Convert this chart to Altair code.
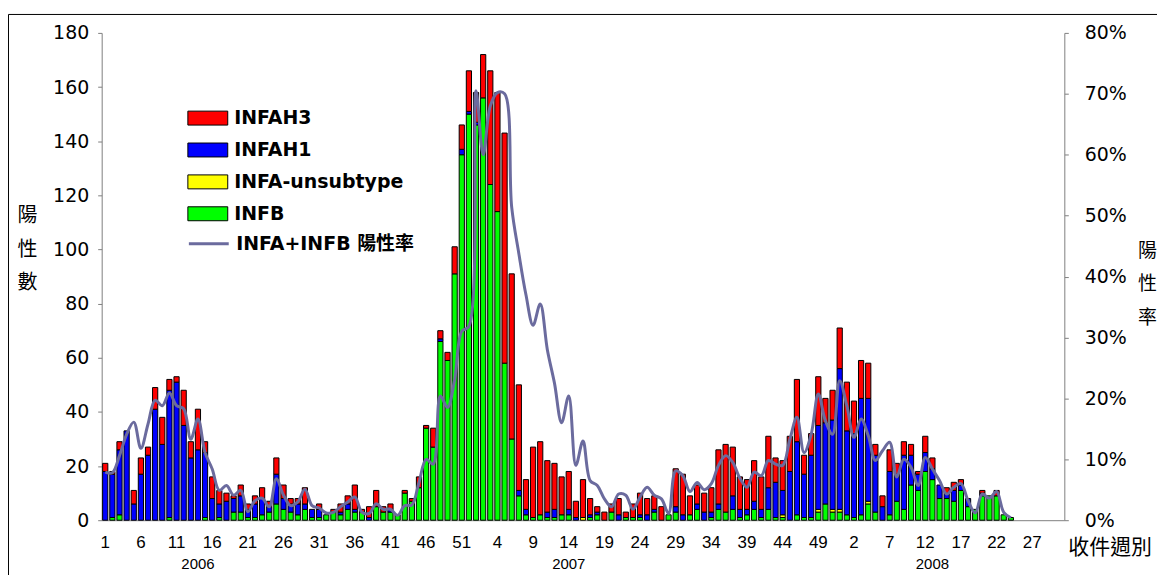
import altair as alt
import pandas as pd

# ---------------- data ----------------
N_WEEKS = 135  # 2006 w1-52, 2007 w1-52, 2008 w1-31
series_names = ["INFAH3", "INFAH1", "INFA-unsubtype", "INFB"]
series_colors = ["#ff0000", "#0000ff", "#ffff00", "#00ff00"]
line_name = "INFA+INFB 陽性率"
line_color = "#6b6b9e"

infb = [0, 1, 2, 0, 0, 0, 0, 0, 0, 1,
        0, 0, 0, 0, 1, 0, 1, 0, 3, 3,
        1, 1, 2, 3, 6, 4, 3, 2, 4, 1,
        1, 2, 3, 2, 4, 3, 3, 0, 5, 3,
        3, 2, 10, 7, 12, 34, 27, 66, 59, 91,
        135, 150, 146, 156, 124, 114, 58, 30, 9, 2,
        1, 2, 1, 1, 2, 2, 0, 0, 1, 2,
        0, 3, 0, 1, 1, 1, 0, 3, 0, 2,
        3, 0, 2, 4, 0, 1, 4, 3, 4, 1,
        2, 4, 1, 4, 1, 1, 0, 2, 1, 1,
        3, 6, 3, 3, 2, 1, 2, 6, 3, 0,
        2, 7, 4, 13, 11, 18, 15, 8, 8, 7,
        11, 5, 4, 9, 9, 9, 2, 1]

unsub = [0] * 128
for _k in (67, 95, 100, 102, 103, 107):
    unsub[_k] = 1

h1 = [18, 16, 24, 33, 6, 17, 24, 41, 28, 47,
      51, 35, 23, 26, 24, 8, 5, 7, 5, 6,
      3, 5, 6, 2, 11, 4, 3, 4, 2, 3,
      3, 0, 0, 1, 2, 1, 0, 1, 0, 0,
      1, 0, 0, 0, 0, 0, 0, 1, 0, 0,
      2, 1, 1, 0, 0, 0, 0, 0, 2, 2,
      0, 0, 2, 3, 0, 2, 1, 0, 1, 1,
      0, 0, 2, 0, 0, 1, 2, 1, 0, 0,
      2, 2, 0, 2, 3, 2, 2, 0, 5, 3,
      2, 3, 3, 8, 13, 9, 18, 27, 16, 23,
      31, 30, 33, 52, 31, 31, 43, 38, 21, 5,
      16, 10, 20, 11, 6, 7, 4, 5, 2, 4,
      2, 3, 0, 1, 0, 0, 0, 0]

h3 = [3, 1, 3, 0, 5, 6, 3, 8, 10, 4,
      2, 13, 6, 15, 4, 8, 5, 3, 1, 4,
      2, 3, 4, 2, 6, 5, 2, 2, 6, 0,
      2, 0, 1, 3, 3, 9, 1, 4, 6, 2,
      2, 0, 1, 1, 4, 1, 7, 3, 3, 10,
      9, 15, 11, 16, 42, 44, 85, 61, 39, 11,
      26, 27, 19, 17, 14, 14, 6, 14, 6, 2,
      3, 3, 6, 2, 5, 8, 6, 5, 5, 0,
      14, 15, 7, 7, 7, 9, 20, 25, 18, 12,
      11, 15, 12, 19, 9, 11, 13, 23, 7, 8,
      18, 9, 11, 15, 18, 12, 14, 13, 4, 4,
      8, 4, 5, 4, 1, 6, 4, 0, 2, 3,
      2, 0, 0, 1, 0, 2, 0, 0]

rate = [7.9, 7.8, 10.6, 14.1, 16.1, 11.8, 15.8, 19.7, 18.8, 20.9,
        18.8, 18.3, 13.3, 16.6, 11.1, 8.4, 4.9, 5.7, 4.1, 4.9,
        1.4, 3.2, 3.6, 2.2, 6.8, 4.1, 2.4, 3.0, 5.1, 2.4,
        2.0, 1.2, 1.3, 2.2, 3.0, 3.8, 1.3, 1.1, 2.7, 1.8,
        1.8, 0.8, 2.4, 2.5, 6.2, 10.0, 9.2, 20.4, 18.5, 23.1,
        31.0, 31.8, 70.5, 60.0, 68.0, 70.2, 70.0, 51.4, 43.8, 37.0,
        32.0, 35.5, 28.0, 22.5, 16.0, 20.4, 9.0, 13.0, 6.5, 5.7,
        3.5, 2.2, 4.3, 4.1, 1.8, 3.8, 5.4, 4.1, 3.5, 1.1,
        8.1, 7.3, 4.7, 6.2, 5.0, 6.0, 9.0, 10.6, 9.5, 6.9,
        5.4, 7.9, 7.3, 9.8, 9.2, 9.0, 13.2, 16.9, 11.1, 14.1,
        20.7, 16.3, 14.1, 22.9, 18.8, 13.6, 16.6, 13.9, 9.8, 11.4,
        12.8, 7.1, 10.0, 8.7, 5.7, 10.3, 8.4, 6.5, 4.3, 5.4,
        6.0, 3.2, 1.2, 4.3, 3.6, 4.7, 1.3, 0.4]

years = ["2006", "2007", "2008"]
year_anchor_week = [13, 65, 116]
left_ticks = list(range(0, 181, 20))
right_ticks = list(range(0, 81, 10))
x_ticks = list(range(0, 131, 5))

# ---------------- tables ----------------
stack_rank = {"INFB": 0, "INFA-unsubtype": 1, "INFAH1": 2, "INFAH3": 3}
rows = []
for i in range(len(infb)):
    for name, arr in (("INFB", infb), ("INFA-unsubtype", unsub),
                      ("INFAH1", h1), ("INFAH3", h3)):
        if arr[i] > 0:
            rows.append({"idx": i, "series": name, "value": arr[i],
                         "rank": stack_rank[name]})
bars_df = pd.DataFrame(rows)
line_df = pd.DataFrame({"idx": list(range(len(rate))), "rate": rate,
                        "series": [line_name] * len(rate)})
years_df = pd.DataFrame({"idx": year_anchor_week, "year": years})

W, H = 966, 489
NUM_FONT = "DejaVu Sans"
NARROW = "Liberation Sans Narrow, Liberation Sans"
CJK = "Noto Sans CJK TC"

xscale = alt.Scale(domain=list(range(N_WEEKS)), paddingInner=0.27, paddingOuter=0.135)
x_enc = alt.X(
    "idx:O", scale=xscale,
    axis=alt.Axis(values=x_ticks, labelExpr="(datum.value % 52) + 1", labelAngle=0,
                  ticks=False, tickSize=0, labelPadding=14, title=None,
                  domainColor="#808080", domainWidth=1, labelFont=NARROW,
                  labelFontSize=17, labelColor="black", grid=False),
)

frame = alt.Chart(pd.DataFrame({"a": [0]})).mark_rect(
    fillOpacity=0, stroke="black", strokeWidth=1
).encode(x=alt.value(-93.5), x2=alt.value(W + 300), y=alt.value(-18.5), y2=alt.value(H + 300))

bars = alt.Chart(bars_df).mark_bar(stroke="black", strokeWidth=1).encode(
    x=x_enc,
    y=alt.Y("value:Q", stack="zero",
            scale=alt.Scale(domain=[0, 180], nice=False),
            axis=alt.Axis(values=left_ticks, grid=False, domainColor="#808080",
                          tickColor="#808080", tickSize=4, labelPadding=9,
                          labelFont=NUM_FONT, labelFontSize=19, labelColor="black",
                          title=["陽", "性", "數"], titleAngle=0, titleFont=CJK,
                          titleFontSize=20, titleFontWeight="normal",
                          titleLineHeight=34, titleX=-75, titleY=183,
                          titleAlign="center", titleBaseline="middle",
                          titleColor="black")),
    fill=alt.Fill("series:N",
                  scale=alt.Scale(domain=series_names, range=series_colors),
                  legend=alt.Legend(title=None, orient="none", legendX=96, legendY=75,
                                    symbolType="M-2,-0.7H2V0.7H-2Z", symbolSize=400,
                                    symbolStrokeColor="black", symbolStrokeWidth=1,
                                    labelFont=NUM_FONT, labelFontSize=19,
                                    labelFontWeight="bold", labelColor="black",
                                    labelOffset=16, rowPadding=11, labelLimit=400,
                                    padding=0)),
    order=alt.Order("rank:Q", sort="ascending"),
)

line = alt.Chart(line_df).mark_line(interpolate="catmull-rom", strokeWidth=3).encode(
    x=x_enc,
    y=alt.Y("rate:Q", scale=alt.Scale(domain=[0, 80], nice=False),
            axis=alt.Axis(orient="right", values=right_ticks,
                          labelExpr="datum.value + '%'", grid=False,
                          domainColor="#808080", tickColor="#808080", tickSize=4,
                          labelPadding=16, labelFont=NUM_FONT, labelFontSize=19,
                          labelColor="black",
                          title=["陽", "性", "率"], titleAngle=0, titleFont=CJK,
                          titleFontSize=19, titleFontWeight="normal",
                          titleLineHeight=34, titleX=83, titleY=218,
                          titleAlign="center", titleBaseline="middle",
                          titleColor="black")),
    stroke=alt.Stroke("series:N",
                      scale=alt.Scale(domain=[line_name], range=[line_color]),
                      legend=alt.Legend(title=None, orient="none", legendX=96, legendY=200,
                                        symbolType="M-2,0H2", symbolSize=400,
                                        symbolStrokeWidth=3, labelFont=NUM_FONT + ", " + CJK,
                                        labelFontSize=19, labelFontWeight="bold",
                                        labelColor="black", labelOffset=16,
                                        labelLimit=400, padding=0)),
)

year_text = alt.Chart(years_df).mark_text(
    font=NARROW, fontSize=15, color="black", baseline="middle", align="center"
).encode(x=x_enc, y=alt.value(H + 44), text="year:N")

week_title = alt.Chart(pd.DataFrame({"t": ["收件週別"]})).mark_text(
    font=CJK, fontSize=21, color="black", baseline="middle", align="center"
).encode(x=alt.value(W + 46), y=alt.value(H + 28), text="t:N")

chart = alt.layer(frame, bars, line, year_text, week_title).resolve_scale(
    y="independent"
).properties(
    width=W, height=H,
    autosize=alt.AutoSizeParams(type="none"),
    padding={"left": 94, "top": 24, "right": 93, "bottom": 54},
    background="white",
).configure_view(stroke=None)

chart.save("out.html", embed_options={"renderer": "svg", "actions": False})
